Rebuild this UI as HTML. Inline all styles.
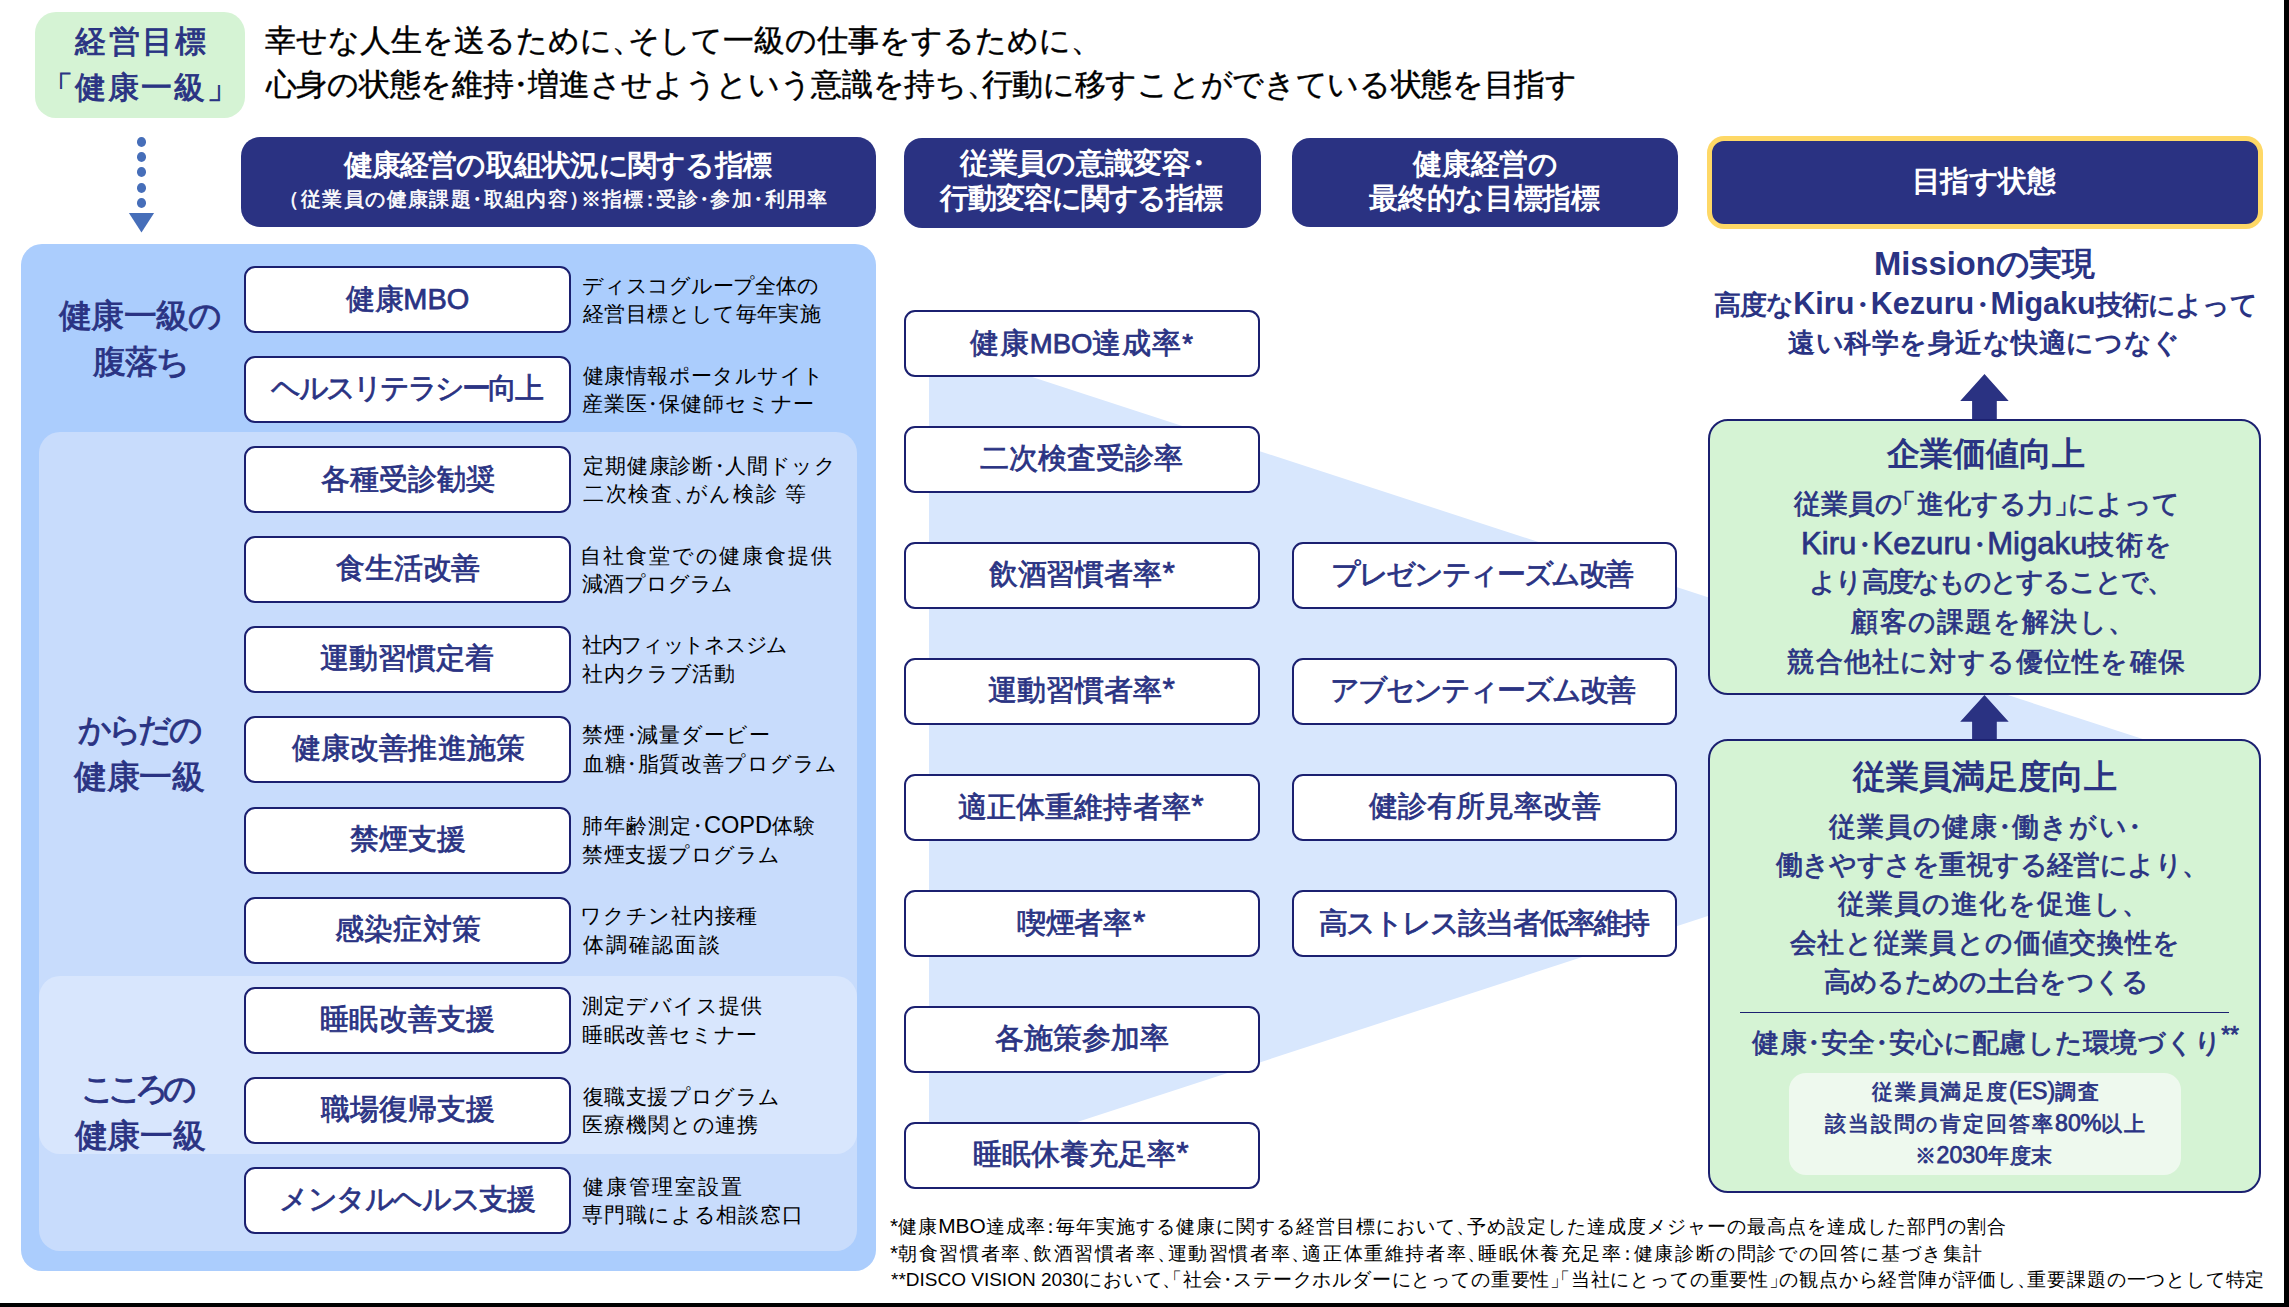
<!DOCTYPE html>
<html lang="ja"><head><meta charset="utf-8"><title>健康経営</title><style>
*{margin:0;padding:0;box-sizing:border-box}
html,body{width:2289px;height:1307px;overflow:hidden;background:#fff}
body{position:relative;font-family:"Liberation Sans",sans-serif}
.a{position:absolute}
.tx{position:absolute;white-space:nowrap}
.pl{margin-right:-0.5em}
.pr{margin-left:-0.5em}
.pc{margin-left:-0.25em;margin-right:-0.25em}
.pq{margin-left:-0.2em;margin-right:-0.2em;letter-spacing:0}
.lt{letter-spacing:0}
.bx{position:absolute;background:#fff;border:2px solid #1b2070;border-radius:11px}
</style></head><body>
<div class="a" style="left:2284px;top:0;width:5px;height:1307px;background:#000"></div>
<div class="a" style="left:0;top:1303px;width:2289px;height:4px;background:#000"></div>
<div class="a" style="left:35px;top:12px;width:210px;height:106px;border-radius:21px;background:#d5f3d4"></div>
<div class="a" style="left:136.8px;top:137.0px;width:9.4px;height:10px;border-radius:50%;background:#466eb9"></div>
<div class="a" style="left:136.8px;top:152.2px;width:9.4px;height:10px;border-radius:50%;background:#466eb9"></div>
<div class="a" style="left:136.8px;top:167.4px;width:9.4px;height:10px;border-radius:50%;background:#466eb9"></div>
<div class="a" style="left:136.8px;top:182.6px;width:9.4px;height:10px;border-radius:50%;background:#466eb9"></div>
<div class="a" style="left:136.8px;top:197.8px;width:9.4px;height:10px;border-radius:50%;background:#466eb9"></div>
<svg class="a" style="left:0;top:0" width="300" height="260"><polygon points="128.9,213 154.1,213 141.5,232.5" fill="#466eb9"/></svg>
<div class="a" style="left:241px;top:137px;width:635px;height:90px;border-radius:19px;background:#2a3282"></div>
<div class="a" style="left:904px;top:138px;width:357px;height:90px;border-radius:18px;background:#2a3282"></div>
<div class="a" style="left:1292px;top:138px;width:386px;height:89px;border-radius:18px;background:#2a3282"></div>
<div class="a" style="left:1707px;top:136px;width:556px;height:93px;border-radius:17px;background:#2a3282;border:5px solid #fed866"></div>
<div class="a" style="left:21px;top:244px;width:855px;height:1027px;border-radius:21px;background:#abcdfd"></div>
<div class="a" style="left:39px;top:432px;width:818px;height:819px;border-radius:21px;background:#c8dcfc"></div>
<div class="a" style="left:39px;top:976px;width:818px;height:178px;border-radius:21px;background:#d8e6fd"></div>
<svg class="a" style="left:0;top:0" width="2289" height="1307"><polygon points="929,343.4 2196.5,756.5 929,1170.4" fill="#d8e7fd"/></svg>
<div class="bx" style="left:244px;top:266px;width:327px;height:67px"></div>
<div class="bx" style="left:244px;top:356px;width:327px;height:67px"></div>
<div class="bx" style="left:244px;top:446px;width:327px;height:67px"></div>
<div class="bx" style="left:244px;top:536px;width:327px;height:67px"></div>
<div class="bx" style="left:244px;top:626px;width:327px;height:67px"></div>
<div class="bx" style="left:244px;top:716px;width:327px;height:67px"></div>
<div class="bx" style="left:244px;top:807px;width:327px;height:67px"></div>
<div class="bx" style="left:244px;top:897px;width:327px;height:67px"></div>
<div class="bx" style="left:244px;top:987px;width:327px;height:67px"></div>
<div class="bx" style="left:244px;top:1077px;width:327px;height:67px"></div>
<div class="bx" style="left:244px;top:1167px;width:327px;height:67px"></div>
<div class="bx" style="left:904px;top:310px;width:356px;height:67px"></div>
<div class="bx" style="left:904px;top:426px;width:356px;height:67px"></div>
<div class="bx" style="left:904px;top:542px;width:356px;height:67px"></div>
<div class="bx" style="left:904px;top:658px;width:356px;height:67px"></div>
<div class="bx" style="left:904px;top:774px;width:356px;height:67px"></div>
<div class="bx" style="left:904px;top:890px;width:356px;height:67px"></div>
<div class="bx" style="left:904px;top:1006px;width:356px;height:67px"></div>
<div class="bx" style="left:904px;top:1122px;width:356px;height:67px"></div>
<div class="bx" style="left:1292px;top:542px;width:385px;height:67px"></div>
<div class="bx" style="left:1292px;top:658px;width:385px;height:67px"></div>
<div class="bx" style="left:1292px;top:774px;width:385px;height:67px"></div>
<div class="bx" style="left:1292px;top:890px;width:385px;height:67px"></div>
<svg class="a" style="left:0;top:0" width="2289" height="1307"><polygon points="1984.5,374.0 2008.7,401.0 1996.8,401.0 1996.8,420.0 1972.1,420.0 1972.1,401.0 1960.2,401.0" fill="#2a3282"/></svg>
<svg class="a" style="left:0;top:0" width="2289" height="1307"><polygon points="1984.5,695.0 2008.7,721.7 1996.8,721.7 1996.8,740.0 1972.1,740.0 1972.1,721.7 1960.2,721.7" fill="#2a3282"/></svg>
<div class="a" style="left:1708px;top:419px;width:553px;height:276px;border-radius:20px;background:#d5f3d4;border:2px solid #1b2070"></div>
<div class="a" style="left:1708px;top:739px;width:553px;height:454px;border-radius:20px;background:#d5f3d4;border:2px solid #1b2070"></div>
<div class="a" style="left:1740px;top:1012px;width:489px;height:1.2px;background:#1b2070"></div>
<div class="a" style="left:1789px;top:1073px;width:392px;height:102px;border-radius:17px;background:#eef9ee"></div>
<div class="tx" style="left:141.00px;width:1200px;margin-left:-600px;text-align:center;text-indent:2.333px;top:26.00px;font-size:30.53px;line-height:30.53px;letter-spacing:2.333px;color:#2a3383;font-weight:normal;-webkit-text-stroke:0.9px currentColor;">経営目標</div>
<div class="tx" style="left:140.00px;width:1200px;margin-left:-600px;text-align:center;text-indent:2.000px;top:71.50px;font-size:30.53px;line-height:30.53px;letter-spacing:2.000px;color:#2a3383;font-weight:normal;-webkit-text-stroke:0.9px currentColor;"><span class="pr">「</span>健康一級<span class="pl">」</span></div>
<div class="tx" style="left:264.80px;top:24.75px;font-size:31.47px;line-height:31.47px;letter-spacing:-0.046px;color:#000000;font-weight:normal;-webkit-text-stroke:0.4px currentColor;">幸せな人生を送るために<span class="pl">、</span>そして一級の仕事をするために<span class="pl">、</span></div>
<div class="tx" style="left:265.80px;top:68.95px;font-size:31.47px;line-height:31.47px;letter-spacing:-0.317px;color:#000000;font-weight:normal;-webkit-text-stroke:0.4px currentColor;">心身の状態を維持<span class="pc">・</span>増進させようという意識を持ち<span class="pl">、</span>行動に移すことができている状態を目指す</div>
<div class="tx" style="left:557.70px;width:1200px;margin-left:-600px;text-align:center;text-indent:-0.771px;top:150.65px;font-size:28.60px;line-height:28.60px;letter-spacing:-0.771px;color:#ffffff;font-weight:bold;">健康経営の取組状況に関する指標</div>
<div class="tx" style="left:558.50px;width:1200px;margin-left:-600px;text-align:center;text-indent:1.407px;top:189.20px;font-size:20.10px;line-height:20.10px;letter-spacing:1.407px;color:#ffffff;font-weight:normal;-webkit-text-stroke:0.6px currentColor;"><span class="pr">（</span>従業員の健康課題<span class="pc">・</span>取組内容<span class="pl">）</span>※指標<span class="pc">：</span>受診<span class="pc">・</span>参加<span class="pc">・</span>利用率</div>
<div class="tx" style="left:1082.70px;width:1200px;margin-left:-600px;text-align:center;text-indent:-0.250px;top:149.45px;font-size:28.60px;line-height:28.60px;letter-spacing:-0.250px;color:#ffffff;font-weight:bold;">従業員の意識変容<span class="pc">・</span></div>
<div class="tx" style="left:1081.75px;width:1200px;margin-left:-600px;text-align:center;text-indent:-1.100px;top:183.85px;font-size:28.60px;line-height:28.60px;letter-spacing:-1.100px;color:#ffffff;font-weight:bold;">行動変容に関する指標</div>
<div class="tx" style="left:1485.70px;width:1200px;margin-left:-600px;text-align:center;text-indent:-0.400px;top:149.50px;font-size:28.60px;line-height:28.60px;letter-spacing:-0.400px;color:#ffffff;font-weight:bold;">健康経営の</div>
<div class="tx" style="left:1484.55px;width:1200px;margin-left:-600px;text-align:center;text-indent:-0.329px;top:183.50px;font-size:28.60px;line-height:28.60px;letter-spacing:-0.329px;color:#ffffff;font-weight:bold;">最終的な目標指標</div>
<div class="tx" style="left:1983.80px;width:1200px;margin-left:-600px;text-align:center;text-indent:-0.500px;top:166.70px;font-size:28.60px;line-height:28.60px;letter-spacing:-0.500px;color:#ffffff;font-weight:bold;">目指す状態</div>
<div class="tx" style="left:140.55px;width:1200px;margin-left:-600px;text-align:center;text-indent:-0.775px;top:300.10px;font-size:32.70px;line-height:32.70px;letter-spacing:-0.775px;color:#2a3383;font-weight:normal;-webkit-text-stroke:0.9px currentColor;">健康一級の</div>
<div class="tx" style="left:141.80px;width:1200px;margin-left:-600px;text-align:center;text-indent:-1.400px;top:345.95px;font-size:32.70px;line-height:32.70px;letter-spacing:-1.400px;color:#2a3383;font-weight:normal;-webkit-text-stroke:0.9px currentColor;">腹落ち</div>
<div class="tx" style="left:140.40px;width:1200px;margin-left:-600px;text-align:center;text-indent:-3.800px;top:713.60px;font-size:32.70px;line-height:32.70px;letter-spacing:-3.800px;color:#2a3383;font-weight:normal;-webkit-text-stroke:0.9px currentColor;">からだの</div>
<div class="tx" style="left:139.70px;width:1200px;margin-left:-600px;text-align:center;text-indent:-0.400px;top:761.45px;font-size:32.70px;line-height:32.70px;letter-spacing:-0.400px;color:#2a3383;font-weight:normal;-webkit-text-stroke:0.9px currentColor;">健康一級</div>
<div class="tx" style="left:138.55px;width:1200px;margin-left:-600px;text-align:center;text-indent:-6.633px;top:1072.50px;font-size:32.70px;line-height:32.70px;letter-spacing:-6.633px;color:#2a3383;font-weight:normal;-webkit-text-stroke:0.9px currentColor;">こころの</div>
<div class="tx" style="left:140.25px;width:1200px;margin-left:-600px;text-align:center;text-indent:-0.300px;top:1119.50px;font-size:32.70px;line-height:32.70px;letter-spacing:-0.300px;color:#2a3383;font-weight:normal;-webkit-text-stroke:0.9px currentColor;">健康一級</div>
<div class="tx" style="left:408.00px;width:1200px;margin-left:-600px;text-align:center;text-indent:-0.500px;top:284.75px;font-size:28.95px;line-height:28.95px;letter-spacing:-0.500px;color:#2a3383;font-weight:normal;-webkit-text-stroke:0.75px currentColor;">健康<span class="lt" style="font-size:1.000em">MBO</span></div>
<div class="tx" style="left:582.10px;top:275.90px;font-size:21.47px;line-height:21.47px;letter-spacing:-0.230px;color:#000000;font-weight:normal;">ディスコグループ全体の</div>
<div class="tx" style="left:583.10px;top:304.10px;font-size:21.47px;line-height:21.47px;letter-spacing:0.360px;color:#000000;font-weight:normal;">経営目標として毎年実施</div>
<div class="tx" style="left:407.50px;width:1200px;margin-left:-600px;text-align:center;text-indent:-2.733px;top:374.25px;font-size:28.95px;line-height:28.95px;letter-spacing:-2.733px;color:#2a3383;font-weight:normal;-webkit-text-stroke:0.75px currentColor;">ヘルスリテラシー向上</div>
<div class="tx" style="left:583.10px;top:365.90px;font-size:21.47px;line-height:21.47px;letter-spacing:0.400px;color:#000000;font-weight:normal;">健康情報ポータルサイト</div>
<div class="tx" style="left:582.10px;top:394.10px;font-size:21.47px;line-height:21.47px;letter-spacing:0.910px;color:#000000;font-weight:normal;">産業医<span class="pc">・</span>保健師セミナー</div>
<div class="tx" style="left:408.05px;width:1200px;margin-left:-600px;text-align:center;text-indent:-0.140px;top:464.75px;font-size:28.95px;line-height:28.95px;letter-spacing:-0.140px;color:#2a3383;font-weight:normal;-webkit-text-stroke:0.75px currentColor;">各種受診勧奨</div>
<div class="tx" style="left:583.10px;top:455.90px;font-size:21.47px;line-height:21.47px;letter-spacing:0.809px;color:#000000;font-weight:normal;">定期健康診断<span class="pc">・</span>人間ドック</div>
<div class="tx" style="left:583.10px;top:482.60px;font-size:21.47px;line-height:21.47px;letter-spacing:1.667px;color:#000000;font-weight:normal;">二次検査<span class="pl">、</span>がん検診<span class="lt" style="font-size:1.100em"> </span>等</div>
<div class="tx" style="left:408.35px;width:1200px;margin-left:-600px;text-align:center;text-indent:-0.275px;top:554.25px;font-size:28.95px;line-height:28.95px;letter-spacing:-0.275px;color:#2a3383;font-weight:normal;-webkit-text-stroke:0.75px currentColor;">食生活改善</div>
<div class="tx" style="left:580.10px;top:545.90px;font-size:21.47px;line-height:21.47px;letter-spacing:1.890px;color:#000000;font-weight:normal;">自社食堂での健康食提供</div>
<div class="tx" style="left:582.10px;top:574.10px;font-size:21.47px;line-height:21.47px;letter-spacing:-0.100px;color:#000000;font-weight:normal;">減酒プログラム</div>
<div class="tx" style="left:407.15px;width:1200px;margin-left:-600px;text-align:center;text-indent:0.020px;top:644.25px;font-size:28.95px;line-height:28.95px;letter-spacing:0.020px;color:#2a3383;font-weight:normal;-webkit-text-stroke:0.75px currentColor;">運動習慣定着</div>
<div class="tx" style="left:582.10px;top:635.40px;font-size:21.47px;line-height:21.47px;letter-spacing:-1.322px;color:#000000;font-weight:normal;">社内フィットネスジム</div>
<div class="tx" style="left:582.10px;top:663.60px;font-size:21.47px;line-height:21.47px;letter-spacing:0.467px;color:#000000;font-weight:normal;">社内クラブ活動</div>
<div class="tx" style="left:408.35px;width:1200px;margin-left:-600px;text-align:center;text-indent:0.129px;top:734.25px;font-size:28.95px;line-height:28.95px;letter-spacing:0.129px;color:#2a3383;font-weight:normal;-webkit-text-stroke:0.75px currentColor;">健康改善推進施策</div>
<div class="tx" style="left:582.10px;top:725.40px;font-size:21.47px;line-height:21.47px;letter-spacing:0.912px;color:#000000;font-weight:normal;">禁煙<span class="pc">・</span>減量ダービー</div>
<div class="tx" style="left:583.10px;top:753.60px;font-size:21.47px;line-height:21.47px;letter-spacing:0.718px;color:#000000;font-weight:normal;">血糖<span class="pc">・</span>脂質改善プログラム</div>
<div class="tx" style="left:407.75px;width:1200px;margin-left:-600px;text-align:center;text-indent:-0.100px;top:825.25px;font-size:28.95px;line-height:28.95px;letter-spacing:-0.100px;color:#2a3383;font-weight:normal;-webkit-text-stroke:0.75px currentColor;">禁煙支援</div>
<div class="tx" style="left:582.10px;top:815.40px;font-size:21.47px;line-height:21.47px;letter-spacing:1.086px;color:#000000;font-weight:normal;">肺年齢測定<span class="pc">・</span><span class="lt" style="font-size:1.100em">COPD</span>体験</div>
<div class="tx" style="left:582.10px;top:845.10px;font-size:21.47px;line-height:21.47px;letter-spacing:0.525px;color:#000000;font-weight:normal;">禁煙支援プログラム</div>
<div class="tx" style="left:408.00px;width:1200px;margin-left:-600px;text-align:center;text-indent:0.150px;top:915.25px;font-size:28.95px;line-height:28.95px;letter-spacing:0.150px;color:#2a3383;font-weight:normal;-webkit-text-stroke:0.75px currentColor;">感染症対策</div>
<div class="tx" style="left:580.10px;top:906.40px;font-size:21.47px;line-height:21.47px;letter-spacing:0.757px;color:#000000;font-weight:normal;">ワクチン社内接種</div>
<div class="tx" style="left:583.10px;top:934.60px;font-size:21.47px;line-height:21.47px;letter-spacing:2.100px;color:#000000;font-weight:normal;">体調確認面談</div>
<div class="tx" style="left:407.80px;width:1200px;margin-left:-600px;text-align:center;text-indent:0.280px;top:1005.25px;font-size:28.95px;line-height:28.95px;letter-spacing:0.280px;color:#2a3383;font-weight:normal;-webkit-text-stroke:0.75px currentColor;">睡眠改善支援</div>
<div class="tx" style="left:582.10px;top:996.40px;font-size:21.47px;line-height:21.47px;letter-spacing:1.186px;color:#000000;font-weight:normal;">測定デバイス提供</div>
<div class="tx" style="left:582.10px;top:1025.10px;font-size:21.47px;line-height:21.47px;letter-spacing:0.614px;color:#000000;font-weight:normal;">睡眠改善セミナー</div>
<div class="tx" style="left:408.30px;width:1200px;margin-left:-600px;text-align:center;text-indent:0.080px;top:1094.75px;font-size:28.95px;line-height:28.95px;letter-spacing:0.080px;color:#2a3383;font-weight:normal;-webkit-text-stroke:0.75px currentColor;">職場復帰支援</div>
<div class="tx" style="left:583.10px;top:1086.90px;font-size:21.47px;line-height:21.47px;letter-spacing:0.400px;color:#000000;font-weight:normal;">復職支援プログラム</div>
<div class="tx" style="left:582.10px;top:1115.10px;font-size:21.47px;line-height:21.47px;letter-spacing:0.900px;color:#000000;font-weight:normal;">医療機関との連携</div>
<div class="tx" style="left:407.50px;width:1200px;margin-left:-600px;text-align:center;text-indent:-1.450px;top:1184.75px;font-size:28.95px;line-height:28.95px;letter-spacing:-1.450px;color:#2a3383;font-weight:normal;-webkit-text-stroke:0.75px currentColor;">メンタルヘルス支援</div>
<div class="tx" style="left:583.10px;top:1176.90px;font-size:21.47px;line-height:21.47px;letter-spacing:2.050px;color:#000000;font-weight:normal;">健康管理室設置</div>
<div class="tx" style="left:582.10px;top:1205.10px;font-size:21.47px;line-height:21.47px;letter-spacing:0.900px;color:#000000;font-weight:normal;">専門職による相談窓口</div>
<div class="tx" style="left:1081.20px;width:1200px;margin-left:-600px;text-align:center;text-indent:0.800px;top:328.75px;font-size:28.95px;line-height:28.95px;letter-spacing:0.800px;color:#2a3383;font-weight:normal;-webkit-text-stroke:0.75px currentColor;">健康<span class="lt" style="font-size:0.950em">MBO</span>達成率<span class="lt" style="margin-left:0.02em;font-size:0.950em">*</span></div>
<div class="tx" style="left:1081.60px;width:1200px;margin-left:-600px;text-align:center;text-indent:0.000px;top:444.25px;font-size:28.95px;line-height:28.95px;letter-spacing:0.000px;color:#2a3383;font-weight:normal;-webkit-text-stroke:0.75px currentColor;">二次検査受診率</div>
<div class="tx" style="left:1081.85px;width:1200px;margin-left:-600px;text-align:center;text-indent:-0.117px;top:559.25px;font-size:28.95px;line-height:28.95px;letter-spacing:-0.117px;color:#2a3383;font-weight:normal;-webkit-text-stroke:0.75px currentColor;">飲酒習慣者率<span class="lt" style="margin-left:0.02em;font-size:1.100em">*</span></div>
<div class="tx" style="left:1081.40px;width:1200px;margin-left:-600px;text-align:center;text-indent:-0.033px;top:675.25px;font-size:28.95px;line-height:28.95px;letter-spacing:-0.033px;color:#2a3383;font-weight:normal;-webkit-text-stroke:0.75px currentColor;">運動習慣者率<span class="lt" style="margin-left:0.02em;font-size:1.100em">*</span></div>
<div class="tx" style="left:1080.90px;width:1200px;margin-left:-600px;text-align:center;text-indent:0.075px;top:791.75px;font-size:28.95px;line-height:28.95px;letter-spacing:0.075px;color:#2a3383;font-weight:normal;-webkit-text-stroke:0.75px currentColor;">適正体重維持者率<span class="lt" style="margin-left:0.02em;font-size:1.100em">*</span></div>
<div class="tx" style="left:1081.00px;width:1200px;margin-left:-600px;text-align:center;text-indent:-0.100px;top:907.75px;font-size:28.95px;line-height:28.95px;letter-spacing:-0.100px;color:#2a3383;font-weight:normal;-webkit-text-stroke:0.75px currentColor;">喫煙者率<span class="lt" style="margin-left:0.02em;font-size:1.100em">*</span></div>
<div class="tx" style="left:1082.15px;width:1200px;margin-left:-600px;text-align:center;text-indent:0.100px;top:1024.25px;font-size:28.95px;line-height:28.95px;letter-spacing:0.100px;color:#2a3383;font-weight:normal;-webkit-text-stroke:0.75px currentColor;">各施策参加率</div>
<div class="tx" style="left:1080.90px;width:1200px;margin-left:-600px;text-align:center;text-indent:-0.086px;top:1139.25px;font-size:28.95px;line-height:28.95px;letter-spacing:-0.086px;color:#2a3383;font-weight:normal;-webkit-text-stroke:0.75px currentColor;">睡眠休養充足率<span class="lt" style="margin-left:0.02em;font-size:1.100em">*</span></div>
<div class="tx" style="left:1482.85px;width:1200px;margin-left:-600px;text-align:center;text-indent:-2.370px;top:560.25px;font-size:28.95px;line-height:28.95px;letter-spacing:-2.370px;color:#2a3383;font-weight:normal;-webkit-text-stroke:0.75px currentColor;">プレゼンティーズム改善</div>
<div class="tx" style="left:1482.80px;width:1200px;margin-left:-600px;text-align:center;text-indent:-2.100px;top:676.25px;font-size:28.95px;line-height:28.95px;letter-spacing:-2.100px;color:#2a3383;font-weight:normal;-webkit-text-stroke:0.75px currentColor;">アブセンティーズム改善</div>
<div class="tx" style="left:1485.10px;width:1200px;margin-left:-600px;text-align:center;text-indent:0.114px;top:792.25px;font-size:28.95px;line-height:28.95px;letter-spacing:0.114px;color:#2a3383;font-weight:normal;-webkit-text-stroke:0.75px currentColor;">健診有所見率改善</div>
<div class="tx" style="left:1484.35px;width:1200px;margin-left:-600px;text-align:center;text-indent:-1.864px;top:908.75px;font-size:28.95px;line-height:28.95px;letter-spacing:-1.864px;color:#2a3383;font-weight:normal;-webkit-text-stroke:0.75px currentColor;">高ストレス該当者低率維持</div>
<div class="tx" style="left:1984.40px;width:1200px;margin-left:-600px;text-align:center;text-indent:-0.500px;top:247.65px;font-size:32.70px;line-height:32.70px;letter-spacing:-0.500px;color:#2a3383;font-weight:bold;"><span class="lt" style="font-size:1.000em">Mission</span>の実現</div>
<div class="tx" style="left:1985.70px;width:1200px;margin-left:-600px;text-align:center;text-indent:-0.850px;top:289.90px;font-size:26.80px;line-height:26.80px;letter-spacing:-0.850px;color:#2a3383;font-weight:bold;">高度な<span class="lt" style="font-size:1.140em">Kiru</span><span class="pq">・</span><span class="lt" style="font-size:1.140em">Kezuru</span><span class="pq">・</span><span class="lt" style="font-size:1.140em">Migaku</span>技術によって</div>
<div class="tx" style="left:1984.10px;width:1200px;margin-left:-600px;text-align:center;text-indent:0.538px;top:330.15px;font-size:26.80px;line-height:26.80px;letter-spacing:0.538px;color:#2a3383;font-weight:bold;">遠い科学を身近な快適につなぐ</div>
<div class="tx" style="left:1985.90px;width:1200px;margin-left:-600px;text-align:center;text-indent:0.080px;top:437.90px;font-size:32.70px;line-height:32.70px;letter-spacing:0.080px;color:#2a3383;font-weight:bold;">企業価値向上</div>
<div class="tx" style="left:1986.80px;width:1200px;margin-left:-600px;text-align:center;text-indent:0.100px;top:489.70px;font-size:27.30px;line-height:27.30px;letter-spacing:0.100px;color:#2a3383;font-weight:normal;-webkit-text-stroke:0.75px currentColor;">従業員の<span class="pr">「</span>進化する力<span class="pl">」</span>によって</div>
<div class="tx" style="left:1986.50px;width:1200px;margin-left:-600px;text-align:center;text-indent:1.200px;top:529.50px;font-size:27.30px;line-height:27.30px;letter-spacing:1.200px;color:#2a3383;font-weight:normal;-webkit-text-stroke:0.75px currentColor;"><span class="lt" style="font-size:1.140em">Kiru</span><span class="pq">・</span><span class="lt" style="font-size:1.140em">Kezuru</span><span class="pq">・</span><span class="lt" style="font-size:1.140em">Migaku</span>技術を</div>
<div class="tx" style="left:1984.95px;width:1200px;margin-left:-600px;text-align:center;text-indent:-1.854px;top:567.65px;font-size:27.30px;line-height:27.30px;letter-spacing:-1.854px;color:#2a3383;font-weight:normal;-webkit-text-stroke:0.75px currentColor;">より高度なものとすることで<span class="pl">、</span></div>
<div class="tx" style="left:1986.25px;width:1200px;margin-left:-600px;text-align:center;text-indent:1.144px;top:608.25px;font-size:27.30px;line-height:27.30px;letter-spacing:1.144px;color:#2a3383;font-weight:normal;-webkit-text-stroke:0.75px currentColor;">顧客の課題を解決し<span class="pl">、</span></div>
<div class="tx" style="left:1986.15px;width:1200px;margin-left:-600px;text-align:center;text-indent:1.192px;top:647.50px;font-size:27.30px;line-height:27.30px;letter-spacing:1.192px;color:#2a3383;font-weight:normal;-webkit-text-stroke:0.75px currentColor;">競合他社に対する優位性を確保</div>
<div class="tx" style="left:1985.30px;width:1200px;margin-left:-600px;text-align:center;text-indent:0.029px;top:760.60px;font-size:32.70px;line-height:32.70px;letter-spacing:0.029px;color:#2a3383;font-weight:bold;">従業員満足度向上</div>
<div class="tx" style="left:1984.75px;width:1200px;margin-left:-600px;text-align:center;text-indent:1.064px;top:812.55px;font-size:27.30px;line-height:27.30px;letter-spacing:1.064px;color:#2a3383;font-weight:normal;-webkit-text-stroke:0.75px currentColor;">従業員の健康<span class="pc">・</span>働きがい<span class="pc">・</span></div>
<div class="tx" style="left:1985.60px;width:1200px;margin-left:-600px;text-align:center;text-indent:-0.560px;top:851.25px;font-size:27.30px;line-height:27.30px;letter-spacing:-0.560px;color:#2a3383;font-weight:normal;-webkit-text-stroke:0.75px currentColor;">働きやすさを重視する経営により<span class="pl">、</span></div>
<div class="tx" style="left:1986.70px;width:1200px;margin-left:-600px;text-align:center;text-indent:1.140px;top:890.15px;font-size:27.30px;line-height:27.30px;letter-spacing:1.140px;color:#2a3383;font-weight:normal;-webkit-text-stroke:0.75px currentColor;">従業員の進化を促進し<span class="pl">、</span></div>
<div class="tx" style="left:1985.10px;width:1200px;margin-left:-600px;text-align:center;text-indent:0.677px;top:929.00px;font-size:27.30px;line-height:27.30px;letter-spacing:0.677px;color:#2a3383;font-weight:normal;-webkit-text-stroke:0.75px currentColor;">会社と従業員との価値交換性を</div>
<div class="tx" style="left:1986.55px;width:1200px;margin-left:-600px;text-align:center;text-indent:-0.700px;top:967.85px;font-size:27.30px;line-height:27.30px;letter-spacing:-0.700px;color:#2a3383;font-weight:normal;-webkit-text-stroke:0.75px currentColor;">高めるための土台をつくる</div>
<div class="tx" style="left:1987.35px;width:1200px;margin-left:-600px;text-align:center;text-indent:0.324px;top:1028.85px;font-size:27.30px;line-height:27.30px;letter-spacing:0.324px;color:#2a3383;font-weight:normal;-webkit-text-stroke:0.75px currentColor;">健康<span class="pc">・</span>安全<span class="pc">・</span>安心に配慮した環境づくり</div>
<div class="tx" style="left:2229.30px;width:1200px;margin-left:-600px;text-align:center;text-indent:1.600px;top:1023.90px;font-size:23.00px;line-height:23.00px;letter-spacing:1.600px;color:#2a3383;font-weight:normal;-webkit-text-stroke:0.75px currentColor;"><span class="lt" style="font-size:1.000em">**</span></div>
<div class="tx" style="left:1985.55px;width:1200px;margin-left:-600px;text-align:center;text-indent:1.814px;top:1080.70px;font-size:21.05px;line-height:21.05px;letter-spacing:1.814px;color:#2a3383;font-weight:normal;-webkit-text-stroke:0.75px currentColor;">従業員満足度<span class="lt" style="font-size:1.100em">(ES)</span>調査</div>
<div class="tx" style="left:1985.05px;width:1200px;margin-left:-600px;text-align:center;text-indent:1.936px;top:1112.50px;font-size:21.05px;line-height:21.05px;letter-spacing:1.936px;color:#2a3383;font-weight:normal;-webkit-text-stroke:0.75px currentColor;">該当設問の肯定回答率<span class="lt" style="font-size:1.100em">80%</span>以上</div>
<div class="tx" style="left:1983.55px;width:1200px;margin-left:-600px;text-align:center;text-indent:0.567px;top:1144.50px;font-size:21.05px;line-height:21.05px;letter-spacing:0.567px;color:#2a3383;font-weight:normal;-webkit-text-stroke:0.75px currentColor;">※<span class="lt" style="font-size:1.100em">2030</span>年度末</div>
<div class="tx" style="left:890.00px;top:1215.95px;font-size:19.00px;line-height:19.00px;letter-spacing:1.000px;color:#000000;font-weight:normal;"><span class="lt" style="font-size:1.100em">*</span>健康<span class="lt" style="font-size:1.100em">MBO</span>達成率<span class="pc">：</span>毎年実施する健康に関する経営目標において<span class="pl">、</span>予め設定した達成度メジャーの最高点を達成した部門の割合</div>
<div class="tx" style="left:890.00px;top:1242.55px;font-size:19.00px;line-height:19.00px;letter-spacing:1.607px;color:#000000;font-weight:normal;"><span class="lt" style="font-size:1.100em">*</span>朝食習慣者率<span class="pl">、</span>飲酒習慣者率<span class="pl">、</span>運動習慣者率<span class="pl">、</span>適正体重維持者率<span class="pl">、</span>睡眠休養充足率<span class="pc">：</span>健康診断の問診での回答に基づき集計</div>
<div class="tx" style="left:891.00px;top:1270.00px;font-size:19.00px;line-height:19.00px;letter-spacing:0.816px;color:#000000;font-weight:normal;"><span class="lt" style="font-size:1.000em">**DISCO VISION 2030</span>において<span class="pl">、</span><span class="pr">「</span>社会<span class="pc">・</span>ステークホルダーにとっての重要性<span class="pl">」</span><span class="pr">「</span>当社にとっての重要性<span class="pl">」</span>の観点から経営陣が評価し<span class="pl">、</span>重要課題の一つとして特定</div>
</body></html>
